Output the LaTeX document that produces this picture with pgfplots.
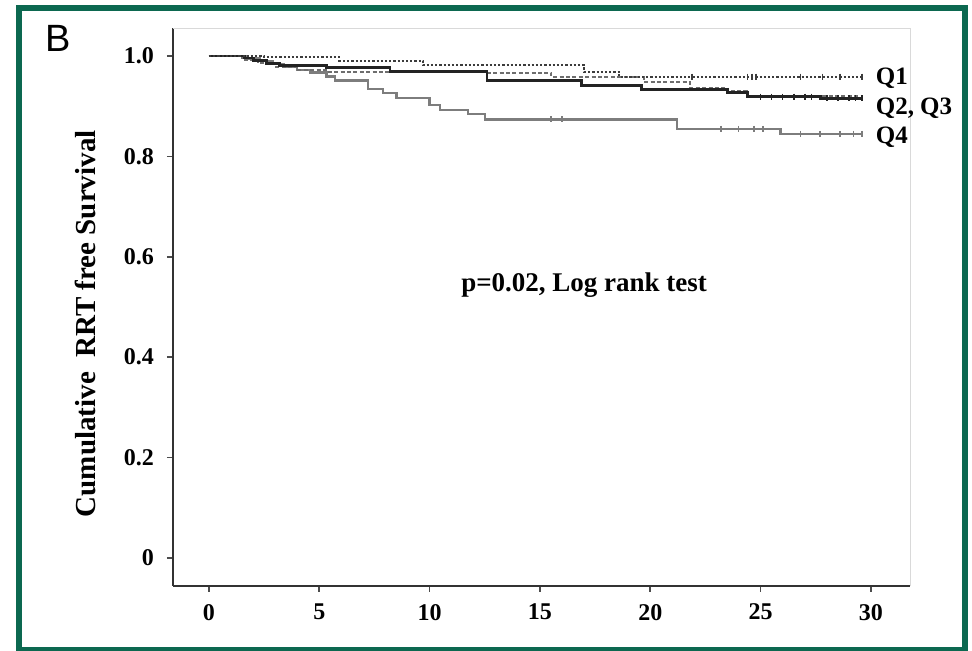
\documentclass[border=0pt]{standalone}
\usepackage{fontspec}
\setmainfont{Liberation Serif}
\newfontfamily\arialfont{Liberation Sans}
\usepackage{pgfplots}
\pgfplotsset{compat=1.18}
\definecolor{framegreen}{RGB}{12,104,80}
\definecolor{qone}{RGB}{60,60,60}
\definecolor{qtwo}{RGB}{35,35,35}
\definecolor{qthree}{RGB}{110,110,110}
\definecolor{qfour}{RGB}{125,125,125}

\begin{document}
\begin{tikzpicture}
\useasboundingbox (-86.5pt,-32.5pt) rectangle (399.5pt,293pt);
\fill[white] (-86.5pt,-32.5pt) rectangle (399.5pt,293pt);
\draw[framegreen, line width=3pt] (-77pt,-32pt) rectangle (395.75pt,289pt);
\node[font=\arialfont\fontsize{19}{19}\selectfont] at (-57.5pt,274pt) {B};
\begin{axis}[
  at={(0pt,0pt)}, anchor=south west,
  scale only axis, width=368.5pt, height=279pt,
  xmin=-1.63, xmax=31.77, ymin=-0.056, ymax=1.056,
  axis lines=left, axis line style={-, line width=1.2pt, black!80},
  tick align=outside, major tick length=3pt,
  tick style={black!70, line width=0.8pt},
  xtick={0,5,10,15,20,25,30},
  ytick={0,0.2,0.4,0.6,0.8,1.0},
  yticklabels={0,0.2,0.4,0.6,0.8,1.0},
  /pgf/number format/assume math mode=true,
  tick label style={font=\bfseries\fontsize{12}{12}\selectfont},
  xticklabel style={yshift=-2.5pt},
  yticklabel style={xshift=-3pt},
  ylabel={Cumulative\ \ RRT free Survival},
  ylabel style={font=\bfseries\fontsize{14.5}{15}\selectfont,
    at={(axis description cs:-0.119,0.47)}, anchor=center},
  clip=false,
]
\draw[black!15] (rel axis cs:0,1) -- (rel axis cs:1,1) -- (rel axis cs:1,0);

% Q4
\addplot[const plot, qfour, line width=1.2pt] coordinates {
 (0,1)(1.7,0.995)(2.3,0.99)(2.9,0.984)(3.4,0.979)(4.0,0.972)(4.6,0.967)
 (5.33,0.959)(5.71,0.951)(7.22,0.934)(7.9,0.927)(8.5,0.917)(10.0,0.902)
 (10.47,0.892)(11.75,0.884)(12.5,0.874)(21.2,0.855)(25.9,0.845)(29.6,0.845)};
% Q3
\addplot[const plot, qthree, line width=1pt, dash pattern=on 2pt off 1.2pt] coordinates {
 (0,1)(1.5,0.993)(2.2,0.986)(3.0,0.979)(4.0,0.972)(5.3,0.969)(12.6,0.967)
 (15.5,0.959)(19.7,0.949)(21.8,0.937)(23.5,0.93)(24.4,0.921)(29.6,0.921)};
% Q2
\addplot[const plot, qtwo, line width=1.4pt] coordinates {
 (0,1)(1.6,0.996)(2.0,0.991)(2.6,0.986)(3.2,0.981)(5.33,0.977)(8.2,0.969)
 (12.6,0.952)(16.9,0.942)(19.6,0.934)(23.5,0.927)(24.4,0.919)(27.7,0.916)(29.6,0.916)};
% Q1
\addplot[const plot, qone, line width=1.1pt, densely dotted] coordinates {
 (0,1)(2.5,0.998)(5.9,0.991)(9.7,0.982)(17.0,0.969)(18.6,0.959)(29.6,0.959)};

% censored marks
\addplot[only marks, mark=|, mark size=1.5pt, qone, line width=0.8pt] coordinates {
 (21.9,0.959)(24.4,0.959)(24.6,0.959)(24.8,0.959)
 (26.8,0.959)(27.8,0.959)(28.6,0.959)(29.6,0.959)};
\addplot[only marks, mark=|, mark size=1.5pt, qfour, line width=0.8pt] coordinates {
 (15.5,0.874)(16.0,0.874)(23.2,0.855)(24.0,0.855)(24.7,0.855)(25.1,0.855)
 (26.8,0.845)(27.7,0.845)(28.6,0.845)(29.2,0.845)(29.6,0.845)};
\addplot[only marks, mark=|, mark size=1.5pt, qtwo, line width=0.8pt] coordinates {
 (25,0.919)(25.5,0.919)(26,0.919)(26.5,0.919)(27,0.919)(27.3,0.919)
 (28,0.916)(28.5,0.916)(29,0.916)(29.3,0.916)(29.6,0.916)};

\node[font=\bfseries\fontsize{13.5}{14}\selectfont] at (axis cs:17.0,0.544) {p=0.02, Log rank test};
\node[font=\bfseries\fontsize{12.5}{13}\selectfont, anchor=west] at (axis cs:29.9,0.955) {Q1};
\node[font=\bfseries\fontsize{12.5}{13}\selectfont, anchor=west] at (axis cs:29.9,0.896) {Q2, Q3};
\node[font=\bfseries\fontsize{12.5}{13}\selectfont, anchor=west] at (axis cs:29.9,0.839) {Q4};
\end{axis}
\end{tikzpicture}
\end{document}
